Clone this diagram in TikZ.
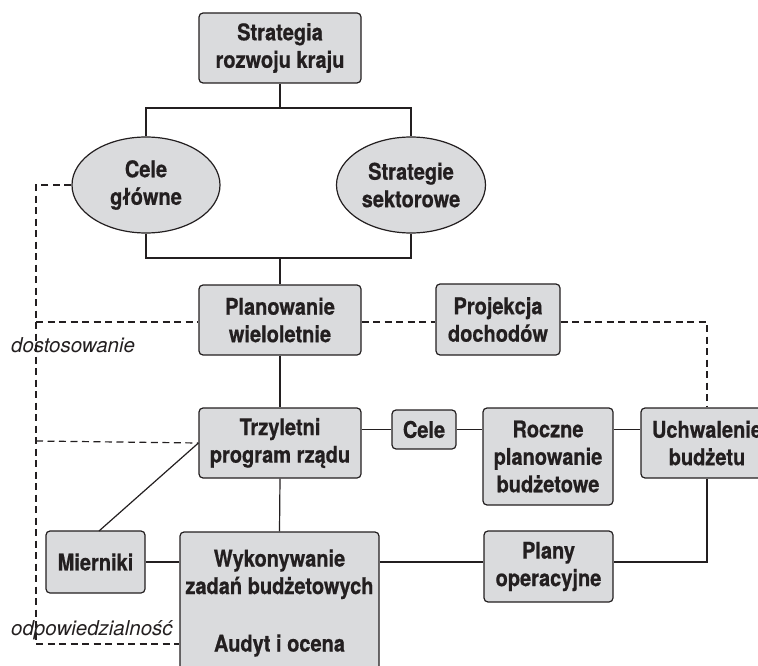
\documentclass[tikz,border=0pt]{standalone}
\usepackage{fontspec}
\setmainfont{TeX Gyre Heros}
\newfontfamily\boxfont{TeX Gyre Heros}[FakeStretch=0.87, BoldFeatures={FakeBold=0.6}]
\usetikzlibrary{shapes.geometric}
\definecolor{boxfill}{RGB}{218,219,221}
\definecolor{ink}{RGB}{35,31,32}
\tikzset{
  box/.style={draw=ink, fill=boxfill, line width=1.2pt, rounded corners=4pt,
    align=center, text=ink, inner sep=0pt,
    font=\boxfont\bfseries\fontsize{23}{27.5}\selectfont},
  oval/.style={ellipse, draw=ink, fill=boxfill, line width=1.2pt,
    align=center, text=ink, inner sep=0pt,
    font=\boxfont\bfseries\fontsize{23}{27.5}\selectfont},
  conn/.style={draw=ink, line width=1.2pt},
  dconn/.style={draw=ink, line width=1.2pt, dash pattern=on 7pt off 4.5pt},
  lbl/.style={text=ink, inner sep=0pt, font=\itshape\fontsize{20.5}{24}\selectfont}
}
\begin{document}
\begin{tikzpicture}[x=1pt,y=1pt]
\useasboundingbox (0,0) rectangle (758,-666);
\clip (0,0) rectangle (758,-666);

\node[box, minimum width=162pt, minimum height=70pt] (strat) at (280,-48) {Strategia\\rozwoju kraju};
\node[oval, minimum width=148pt, minimum height=96pt] (celeg) at (146,-185) {Cele\\główne};
\node[oval, minimum width=149pt, minimum height=96pt] (sekt) at (411,-185) {Strategie\\sektorowe};
\node[box, minimum width=162pt, minimum height=70pt] (plan) at (280,-320) {Planowanie\\wieloletnie};
\node[box, minimum width=124pt, minimum height=71pt] (proj) at (498,-319.5) {Projekcja\\dochodów};
\node[box, minimum width=162pt, minimum height=70pt] (trzy) at (280,-443) {Trzyletni\\program rządu};
\node[box, minimum width=64pt, minimum height=39pt] (cele) at (424,-429.5) {Cele};
\node[box, minimum width=130pt, minimum height=97pt] (rocz) at (548,-456.5) {Roczne\\planowanie\\budżetowe};
\node[box, minimum width=132pt, minimum height=70pt] (uchw) at (707,-443) {Uchwalenie\\budżetu};
\node[box, minimum width=129pt, minimum height=71pt] (plany) at (548.5,-566.5) {Plany\\operacyjne};
\node[box, minimum width=99pt, minimum height=62pt] (mier) at (95.5,-562) {Mierniki};
\node[box, minimum width=199pt, minimum height=142pt] (wyk) at (279.5,-603) {Wykonywanie\\zadań budżetowych\\[30pt]Audyt i ocena};

\node[lbl, anchor=base west] (dost) at (11,-352) {dostosowanie};
\node[lbl, anchor=base west] (odp) at (11,-635) {odpowiedzialność};

% solid connectors
\coordinate (j1) at (280,-108);
\coordinate (j2) at (280,-258);
\draw[conn] (strat.south) -- (j1);
\draw[conn] (celeg.north) |- (j1) -| (sekt.north);
\draw[conn] (celeg.south) |- (j2) -| (sekt.south);
\draw[conn] (j2) -- (plan.north);
\draw[conn] (plan.south) -- (trzy.north);
\draw[conn] (trzy.south) -- (wyk.north);
\draw[conn] (cele.west) -- (cele.west -| trzy.east);
\draw[conn] (cele.east) -- (cele.east -| rocz.west);
\draw[conn] (rocz.east |- cele) -- (uchw.west |- cele);
\coordinate (j3) at (707,-562);
\draw[conn] (uchw.south) -- (j3) -- (j3 -| plany.east);
\draw[conn] (wyk.east |- j3) -- (plany.west |- j3);
\draw[conn] (mier.east) -- (mier.east -| wyk.west);
\draw[conn] (trzy.west) -- (99,-531);

% dashed connectors
\coordinate (dl) at (36,-644);
\draw[dconn] (celeg.west) -| (dl) -- (dl -| wyk.west);
\draw[dconn] (36,-322) -- (plan.west |- 0,-322);
\draw[dconn] (36,-441) -- (trzy.west);
\draw[dconn] (plan.east |- 0,-322) -- (proj.west |- 0,-322);
\draw[dconn] (proj.east |- 0,-322) -| (uchw.north);
\end{tikzpicture}
\end{document}
